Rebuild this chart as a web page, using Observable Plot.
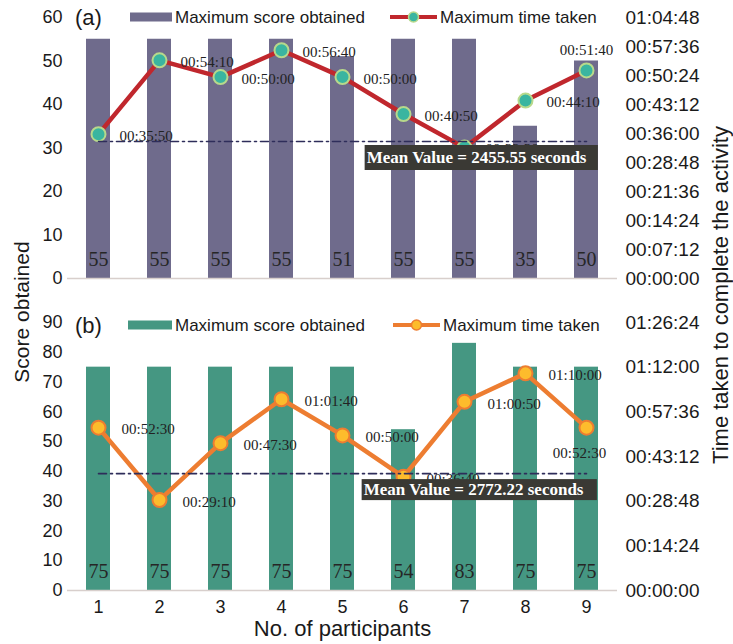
<!DOCTYPE html>
<html><head><meta charset="utf-8">
<script src="https://cdn.jsdelivr.net/npm/d3@7"></script>
<script src="https://cdn.jsdelivr.net/npm/@observablehq/plot@0.6"></script>
<style>
body{margin:0;background:#fff;}
#wrap{position:relative;width:733px;height:644px;overflow:hidden;background:#fff;}
#wrap svg{position:absolute;left:0;display:block;overflow:visible;}
</style></head><body><div id="wrap"></div>
<script>
// ---------- data ----------
const participants = [1, 2, 3, 4, 5, 6, 7, 8, 9];

const scoreA = [55, 55, 55, 55, 51, 55, 55, 35, 50];
const timeA = ["00:35:50", "00:54:10", "00:50:00", "00:56:40", "00:50:00", "00:40:50", "00:32:30", "00:44:10", "00:51:40"];
const labelPosA = ["right", "right", "right", "right", "right", "right", "right", "right", "above"];
const meanTextA = "Mean Value = 2455.55 seconds";
const meanLevelA = "00:34:00";
const scoreTicksA = [0, 10, 20, 30, 40, 50, 60];
const timeTicksA = ["00:00:00", "00:07:12", "00:14:24", "00:21:36", "00:28:48", "00:36:00", "00:43:12", "00:50:24", "00:57:36", "01:04:48"];

const scoreB = [75, 75, 75, 75, 75, 54, 83, 75, 75];
const timeB = ["00:52:30", "00:29:10", "00:47:30", "01:01:40", "00:50:00", "00:36:40", "01:00:50", "01:10:00", "00:52:30"];
const labelPosB = ["right", "right", "right", "right", "right", "right", "right", "right", "below"];
const meanTextB = "Mean Value = 2772.22 seconds";
const meanLevelB = "00:37:40";
const scoreTicksB = [0, 10, 20, 30, 40, 50, 60, 70, 80, 90];
const timeTicksB = ["00:00:00", "00:14:24", "00:28:48", "00:43:12", "00:57:36", "01:12:00", "01:26:24"];

const legendBar = "Maximum score obtained";
const legendLine = "Maximum time taken";
const xTitle = "No. of participants";
const yTitleLeft = "Score obtained";
const yTitleRight = "Time taken to complete the activity";

// ---------- helpers ----------
const toSec = s => { const [h, m, x] = s.split(":").map(Number); return h * 3600 + m * 60 + x; };
const fmt = v => { v = Math.round(v); const h = Math.floor(v / 3600), m = Math.floor(v % 3600 / 60), s = v % 60; return [h, m, s].map(d => String(d).padStart(2, "0")).join(":"); };

const W = 733, ML = 67, MR = 116;
const SANS = "Arial, 'Liberation Sans', sans-serif";
const SERIF = "'Liberation Serif', 'Times New Roman', serif";
const wrap = document.getElementById("wrap");

function panel(o) {
  const data = participants.map((p, i) => ({p, score: o.scores[i], t: toSec(o.times[i]), label: o.times[i], pos: o.pos[i]}));
  const xScale = {type: "band", domain: participants, paddingInner: 0.61, paddingOuter: 0.3, tickSize: 0, tickPadding: 10, label: null, axis: o.showX ? "bottom" : null};
  const common = {width: W, height: o.height, marginTop: o.mt, marginBottom: o.mb, marginLeft: ML, marginRight: MR};

  const bars = Plot.plot({
    ...common,
    style: {fontFamily: SANS, fontSize: "18px", color: "#1a1a1a", background: "transparent", overflow: "visible"},
    x: xScale,
    y: {domain: [0, o.scoreMax], ticks: o.scoreTicks, tickSize: 0, tickPadding: 5, label: null},
    marks: [
      Plot.barY(data, {x: "p", y: "score", fill: o.barColor}),
      Plot.ruleY([0], {stroke: "#d8cfcc", strokeWidth: 1.6}),
      Plot.text(data, {x: "p", y: 0, text: d => String(d.score), dy: -13, lineAnchor: "bottom", fontFamily: SERIF, fontSize: 20, fill: "#262626"}),
      o.showX ? Plot.text([xTitle], {frameAnchor: "bottom", dy: 38, lineAnchor: "middle", fontSize: 22, fill: "#1a1a1a"}) : null
    ]
  });

  const serifLabel = {x: "p", y: "t", text: "label", fontFamily: SERIF, fontSize: 15, fill: "#222"};
  const mean = toSec(o.meanLevel);
  const lines = Plot.plot({
    ...common,
    style: {fontFamily: SANS, fontSize: "19px", color: "#1a1a1a", background: "transparent", overflow: "visible"},
    x: {...xScale, axis: null},
    y: {domain: [0, toSec(o.timeTicks[o.timeTicks.length - 1])], ticks: o.timeTicks.map(toSec), tickFormat: fmt, axis: "right", tickSize: 0, tickPadding: 8, label: null},
    marks: [
      Plot.line(data, {x: "p", y: "t", stroke: o.lineColor, strokeWidth: 4.5}),
      Plot.dot(data, {x: "p", y: "t", r: 7, fill: o.dotFill, stroke: o.dotStroke, strokeWidth: 2}),
      Plot.text(data.filter(d => d.pos === "right"), {...serifLabel, textAnchor: "start", dx: o.labelDx, dy: 2}),
      Plot.text(data.filter(d => d.pos === "above"), {...serifLabel, textAnchor: "middle", dy: -20}),
      Plot.text(data.filter(d => d.pos === "below"), {...serifLabel, textAnchor: "middle", dx: -7, dy: 26}),
      Plot.line([{p: participants[0], t: mean}, {p: participants[participants.length - 1], t: mean}], {x: "p", y: "t", stroke: "#2e2d5a", strokeWidth: 1.6, strokeDasharray: "8,4,2,4"}),
      Plot.text([{p: participants[participants.length - 1], t: mean, s: o.meanText}], {x: "p", y: "t", text: "s", textAnchor: "end", dx: o.meanDx, dy: 16, lineAnchor: "middle", fill: "#fff", fontWeight: "bold", fontFamily: SERIF, fontSize: 17})
    ]
  });

  bars.style.top = o.top + "px";
  lines.style.top = o.top + "px";
  wrap.appendChild(bars);
  wrap.appendChild(lines);

  // dark box behind mean text (same local coordinate system as the text)
  d3.select(lines).selectAll("text").filter(function () { return this.textContent === o.meanText; }).each(function () {
    const b = this.getBBox();
    const cy = b.y + b.height / 2;
    const r = d3.select(this.parentNode).insert("rect", () => this)
      .attr("x", b.x - 2).attr("y", cy - o.boxH / 2)
      .attr("width", b.width + o.boxPadR + 2).attr("height", o.boxH)
      .attr("fill", "#3a3934");
    const tr = this.getAttribute("transform");
    if (tr) r.attr("transform", tr);
  });
}

panel({top: 0, height: 300, mt: 17, mb: 22, scores: scoreA, times: timeA, pos: labelPosA, scoreMax: 60, scoreTicks: scoreTicksA, timeTicks: timeTicksA,
  barColor: "#6f6b8c", lineColor: "#c0272d", dotFill: "#3ab5a0", dotStroke: "#b7d98b", labelDx: 21, meanLevel: meanLevelA, meanText: meanTextA, meanDx: 0, boxH: 25, boxPadR: 11, showX: false});

panel({top: 300, height: 344, mt: 22, mb: 54, scores: scoreB, times: timeB, pos: labelPosB, scoreMax: 90, scoreTicks: scoreTicksB, timeTicks: timeTicksB,
  barColor: "#459782", lineColor: "#ed7d31", dotFill: "#fdbc2c", dotStroke: "#ed7d31", labelDx: 23, meanLevel: meanLevelB, meanText: meanTextB, meanDx: -3, boxH: 21, boxPadR: 13, showX: true});

// ---------- overlay: legends, panel tags, axis titles ----------
const ov = d3.select(wrap).append("svg").attr("width", W).attr("height", 644).style("top", "0px")
  .style("font-family", SANS).attr("fill", "#1a1a1a");

function legend(cy, barColor, lineColor, dotFill, dotStroke, sw, lx, tag) {
  ov.append("text").attr("x", 75).attr("y", cy).attr("dominant-baseline", "central").attr("font-size", 22).text(tag);
  ov.append("rect").attr("x", sw[0]).attr("y", cy - 4.5).attr("width", sw[1] - sw[0]).attr("height", 9).attr("fill", barColor);
  ov.append("text").attr("x", sw[1] + 3).attr("y", cy).attr("dominant-baseline", "central").attr("font-size", 17).text(legendBar);
  ov.append("line").attr("x1", lx[0]).attr("x2", lx[1]).attr("y1", cy).attr("y2", cy).attr("stroke", lineColor).attr("stroke-width", 4);
  ov.append("circle").attr("cx", (lx[0] + lx[1]) / 2).attr("cy", cy).attr("r", 5).attr("fill", dotFill).attr("stroke", dotStroke).attr("stroke-width", 1.5);
  ov.append("text").attr("x", lx[1] + 3).attr("y", cy).attr("dominant-baseline", "central").attr("font-size", 17).text(legendLine);
}
legend(17, "#6f6b8c", "#c0272d", "#3ab5a0", "#b7d98b", [130, 172], [390, 437], "(a)");
legend(325, "#459782", "#ed7d31", "#fdbc2c", "#ed7d31", [128, 172], [393, 440], "(b)");

ov.append("text").attr("transform", "translate(21,312) rotate(-90)").attr("text-anchor", "middle").attr("dominant-baseline", "central").attr("font-size", 21).text(yTitleLeft);
ov.append("text").attr("transform", "translate(720,295) rotate(-90)").attr("text-anchor", "middle").attr("dominant-baseline", "central").attr("font-size", 22).text(yTitleRight);
</script>
</body></html>
